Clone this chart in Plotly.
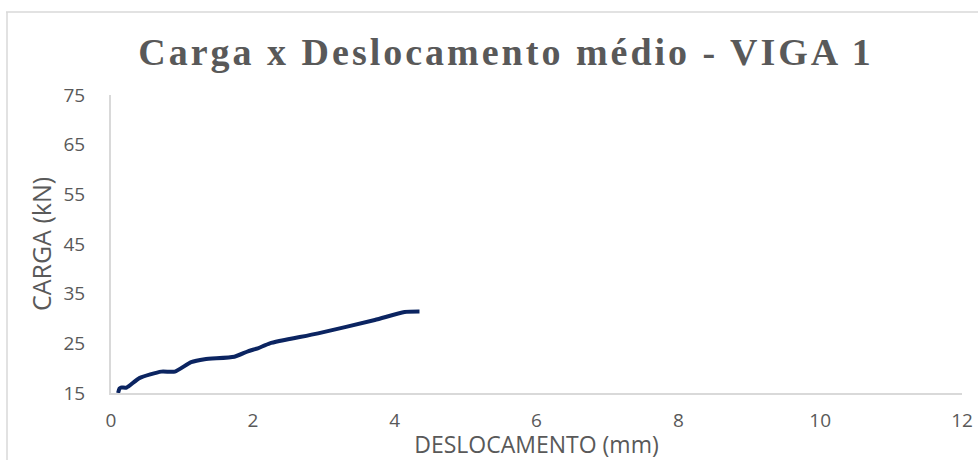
import plotly.graph_objects as go

# Load-displacement readings for beam 1
deslocamento_mm = [0.10, 0.12, 0.14, 0.22, 0.40, 0.71, 0.90, 1.13, 1.32, 1.74, 1.93, 2.07, 2.24, 2.92, 3.72, 4.14, 4.35]
carga_kn = [15.0, 15.9, 16.1, 16.1, 18.0, 19.3, 19.3, 21.2, 21.8, 22.3, 23.4, 24.0, 25.0, 27.0, 29.7, 31.3, 31.4]

x_ticks = [0, 2, 4, 6, 8, 10, 12]
y_ticks = [15, 25, 35, 45, 55, 65, 75]

W, H = 978, 460
L, R, T, B = 111, 16, 95, 67

axis_grey = "#d9d9d9"
text_grey = "#595959"

fig = go.Figure()
fig.add_trace(go.Scatter(
    x=deslocamento_mm, y=carga_kn, mode="lines",
    line=dict(color="#0b2461", width=4, shape="spline", smoothing=0.6),
    cliponaxis=True, showlegend=False,
))

# outer chart frame (top and left edges visible)
def px_x(p):
    return (p - L) / (W - L - R)

def px_y(p):
    return (H - B - p) / (H - T - B)

fig.add_shape(type="line", xref="paper", yref="paper",
              x0=px_x(6), x1=px_x(W + 10), y0=px_y(12), y1=px_y(12),
              line=dict(color=axis_grey, width=1.5))
fig.add_shape(type="line", xref="paper", yref="paper",
              x0=px_x(7), x1=px_x(7), y0=px_y(12), y1=px_y(H + 10),
              line=dict(color=axis_grey, width=1.5))

title_text = '<span style="letter-spacing:3px">Carga x Deslocamento médio - VIGA 1</span>'

fig.update_layout(
    width=W, height=H,
    margin=dict(l=L, r=R, t=T, b=B, autoexpand=False),
    paper_bgcolor="white", plot_bgcolor="white",
    title=dict(
        text=title_text,
        font=dict(family="Liberation Serif", size=38, color=text_grey, weight="bold"),
        x=506 / W, xanchor="center", y=1 - 52 / H, yanchor="middle",
    ),
    xaxis=dict(
        range=[0, 12], tickvals=x_ticks, ticktext=[str(v) for v in x_ticks],
        showgrid=False, zeroline=False, showline=True, linecolor=axis_grey, linewidth=2,
        ticks="", ticklabelstandoff=9, automargin=False,
        tickfont=dict(family="Open Sans", size=19, color=text_grey),
        title=dict(text="DESLOCAMENTO (mm)", standoff=5,
                   font=dict(family="Open Sans", size=23, color=text_grey)),
    ),
    yaxis=dict(
        range=[15, 75], tickvals=y_ticks, ticktext=[str(v) for v in y_ticks],
        showgrid=False, zeroline=False, showline=True, linecolor=axis_grey, linewidth=2,
        ticks="", ticklabelstandoff=20, automargin=False,
        tickfont=dict(family="Open Sans", size=19, color=text_grey),
        title=dict(text="CARGA (kN)", standoff=5,
                   font=dict(family="Open Sans", size=25, color=text_grey)),
    ),
)

fig.write_html("out.html")
